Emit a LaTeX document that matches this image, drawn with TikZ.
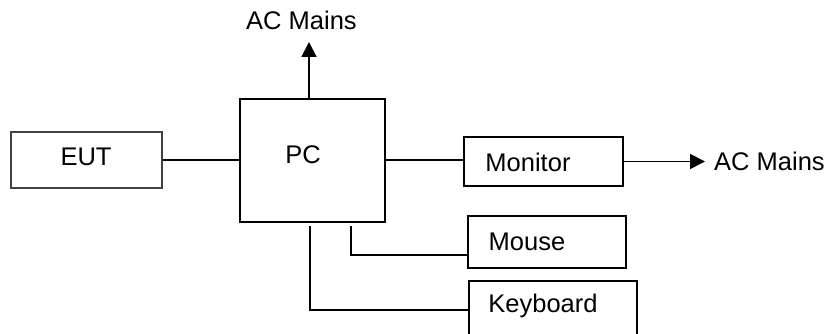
\documentclass[tikz,border=0pt]{standalone}
\usepackage{fontspec}
\setmainfont{Liberation Sans}
\usetikzlibrary{arrows.meta}
\begin{document}
\begin{tikzpicture}[x=1pt,y=-1pt,
  every node/.style={font=\fontsize{25.5}{30}\selectfont},
  box/.style={draw, line width=1.8pt, inner sep=0pt},
  thinbox/.style={draw=black!75, line width=1.2pt, inner sep=0pt},
  wire/.style={line width=1.8pt},
  arr/.style={line width=1.8pt, -{Triangle[length=15pt,width=15pt]}},
  txt/.style={inner sep=0pt}]
\useasboundingbox (0,0) rectangle (830,334);
\clip (0,0) rectangle (830,334);
% boxes
\node[thinbox, minimum width=151pt, minimum height=56pt] (eut) at (86.5,160) {};
\node[box, minimum width=145pt, minimum height=123pt] (pc) at (312.5,160.5) {};
\node[box, minimum width=159pt, minimum height=49pt] (mon) at (543.5,161.5) {};
\node[box, minimum width=158pt, minimum height=52pt] (mouse) at (547,242) {};
\node[box, minimum width=168pt, minimum height=64pt] (kb) at (553,313) {};
% labels
\node[txt] (eutl) at (86,157) {EUT};
\node[txt] (pcl) at (303,155) {PC};
\node[txt] (monl) at (528,162) {Monitor};
\node[txt] (mousel) at (527,242) {Mouse};
\node[txt] (kbl) at (543,306) {Keyboard};
\node[txt] (actop) at (301.5,20) {AC Mains};
\node[txt, anchor=west, inner xsep=9pt] (acr) at (705,161.5) {AC Mains};
% connectors
\coordinate (tiptop) at (309,42);
\draw[wire] (eut.east) -- (pc.west |- eut.east);
\draw[wire] (pc.east |- 0,160) -- (mon.west |- 0,160);
\draw[arr] (pc.north -| tiptop) -- (tiptop);
\draw[arr] (mon.east) -- (acr.west);
\draw[wire] ([xshift=38.5pt,yshift=-3pt]pc.south) |- ([yshift=-13pt]mouse.west);
\draw[wire] ([xshift=-2.5pt,yshift=-3pt]pc.south) |- ([yshift=3pt]kb.west);
\end{tikzpicture}
\end{document}
